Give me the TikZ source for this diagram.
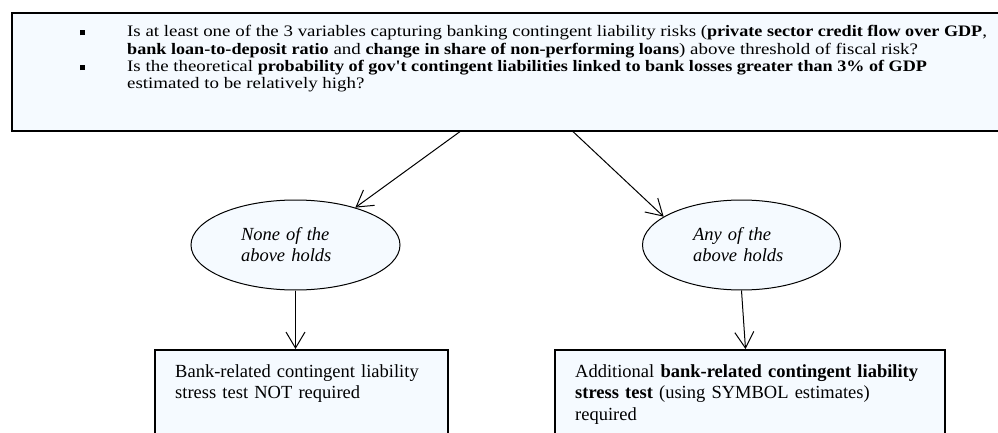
\documentclass[tikz,border=0pt]{standalone}
\usepackage{fontspec}
\setmainfont{Liberation Serif}
\newfontfamily\topreg{Liberation Serif}[FakeStretch=1.181]
\newfontfamily\topbold{Liberation Serif Bold}[FakeStretch=1.134]
\newcommand{\tb}[1]{{\topbold #1}}
\usetikzlibrary{arrows.meta,shapes.geometric}
\definecolor{boxfill}{RGB}{245,250,255}
\begin{document}
\begin{tikzpicture}[x=1pt,y=-1pt,
 boxstyle/.style={draw=black, line width=1.6pt, fill=boxfill, inner sep=0pt, anchor=north west},
 ovalstyle/.style={ellipse, draw=black, line width=1pt, fill=boxfill, minimum height=90pt, inner sep=0pt, font=\fontsize{18.5}{21}\selectfont\itshape, align=left},
 arr/.style={-{Straight Barb[length=16pt,width=19pt]}, line width=1pt},
 bodytext/.style={anchor=base west, inner sep=0pt, align=left, font=\fontsize{18.5}{21.5}\selectfont},
]
\useasboundingbox (0,0) rectangle (998,433);
\clip (0,0) rectangle (998,433);
% top question box
\node[boxstyle, minimum width=1000pt, minimum height=118pt] (top) at (11,12) {};
\node[anchor=base west, inner sep=0pt, font=\fontsize{16}{17.3}\selectfont\topreg] (qtext) at (80,37) {%
\begin{tabular}[t]{@{}p{47pt}@{}l@{}}
\raisebox{1.5pt}{\rule{5pt}{5pt}} & Is at least one of the 3 variables capturing banking contingent liability risks (\tb{private sector credit flow over GDP},\\
 & \tb{bank loan-to-deposit ratio} and \tb{change in share of non-performing loans}) above threshold of fiscal risk?\\
\raisebox{1.5pt}{\rule{5pt}{5pt}} & Is the theoretical \tb{probability of gov't contingent liabilities linked to bank losses greater than 3\% of GDP}\\
 & estimated to be relatively high?
\end{tabular}};
% ellipses
\node[ovalstyle, minimum width=209pt, text width=109pt] (e1) at (295.5,245) {None of the\\above holds};
\node[ovalstyle, minimum width=198pt, text width=97pt] (e2) at (741.5,245) {Any of the\\above holds};
% bottom boxes
\node[boxstyle, minimum width=293pt, minimum height=120pt] (b1) at (154,349) {};
\node[bodytext, text width=265pt] (t1) at (175,377) {Bank-related contingent liability\\stress test NOT required};
\node[boxstyle, minimum width=390pt, minimum height=120pt] (b2) at (554,349) {};
\node[bodytext, text width=360pt] (t2) at (575,377) {Additional \textbf{bank-related contingent liability}\\\textbf{stress test} (using SYMBOL estimates)\\required};
% connectors
\coordinate (s1) at ([xshift=449pt]top.south west);
\coordinate (s2) at ([xshift=562pt]top.south west);
\draw[arr] (s1) -- (e1.32);
\draw[arr] (s2) -- (e2.160);
\draw[arr] (e1.south) -- (e1.south |- b1.north);
\draw[arr] (e2.south) -- ([xshift=4pt]e2.south |- b2.north);
\end{tikzpicture}
\end{document}
